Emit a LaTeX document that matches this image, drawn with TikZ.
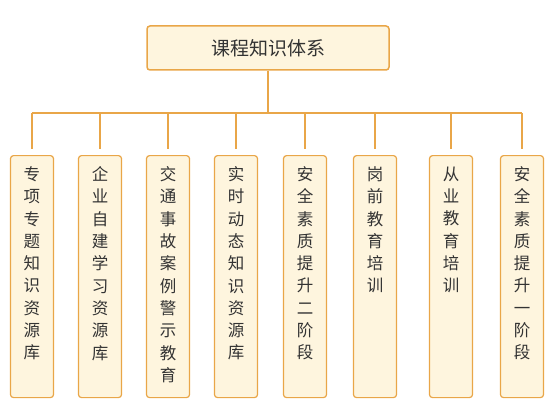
\documentclass[tikz,border=0pt]{standalone}
\usepackage{fontspec}
\newfontfamily\cjk{Noto Sans CJK SC}
\definecolor{lineorange}{RGB}{233, 166, 72}
\definecolor{boxcream}{RGB}{254, 245, 222}
\definecolor{inkgray}{RGB}{51, 51, 51}
\usepackage{tikz}
\usetikzlibrary{positioning, calc}

\tikzset{
  rootbox/.style={draw=lineorange, fill=boxcream, rounded corners=3pt,
    line width=1.5pt, minimum width=242pt, minimum height=44pt,
    font=\cjk\fontsize{19}{22}\selectfont, text=inkgray},
  leafbox/.style={draw=lineorange, fill=boxcream, rounded corners=3pt,
    line width=1.2pt, inner sep=0pt, minimum width=43pt, anchor=north,
    font=\cjk\fontsize{16.5}{22.3}\selectfont, text=inkgray},
  link/.style={draw=lineorange, line width=2pt}
}
\newcommand{\colstack}[1]{\parbox[c][242pt][t]{43pt}{\centering\vspace*{11pt}#1}}

\begin{document}
\begin{tikzpicture}[x=1pt, y=-1pt]
  \useasboundingbox (0,0) rectangle (554,417);

  % Top box: the whole system
  \node[rootbox] (root) at (268,48) {课程知识体系};
  \coordinate (hub) at (268,113);

  % Eight course columns
  \node[leafbox] (k1) at (32,155)  {\colstack{专\\项\\专\\题\\知\\识\\资\\源\\库}};
  \node[leafbox] (k2) at (100,155) {\colstack{企\\业\\自\\建\\学\\习\\资\\源\\库}};
  \node[leafbox] (k3) at (168,155) {\colstack{交\\通\\事\\故\\案\\例\\警\\示\\教\\育}};
  \node[leafbox] (k4) at (236,155) {\colstack{实\\时\\动\\态\\知\\识\\资\\源\\库}};
  \node[leafbox] (k5) at (305,155) {\colstack{安\\全\\素\\质\\提\\升\\二\\阶\\段}};
  \node[leafbox] (k6) at (375,155) {\colstack{岗\\前\\教\\育\\培\\训}};
  \node[leafbox] (k7) at (451,155) {\colstack{从\\业\\教\\育\\培\\训}};
  \node[leafbox] (k8) at (522,155) {\colstack{安\\全\\素\\质\\提\\升\\一\\阶\\段}};

  % Trunk and bus
  \draw[link] (root.south) -- (hub);
  \draw[link] (k1.north |- hub) -- (k8.north |- hub);

  % Drops to each column
  \draw[link, shorten >=6pt] (k1.north |- hub) -- (k1.north);
  \draw[link, shorten >=6pt] (k2.north |- hub) -- (k2.north);
  \draw[link, shorten >=6pt] (k3.north |- hub) -- (k3.north);
  \draw[link, shorten >=6pt] (k4.north |- hub) -- (k4.north);
  \draw[link, shorten >=6pt] (k5.north |- hub) -- (k5.north);
  \draw[link, shorten >=6pt] (k6.north |- hub) -- (k6.north);
  \draw[link, shorten >=6pt] (k7.north |- hub) -- (k7.north);
  \draw[link, shorten >=6pt] (k8.north |- hub) -- (k8.north);
\end{tikzpicture}
\end{document}
